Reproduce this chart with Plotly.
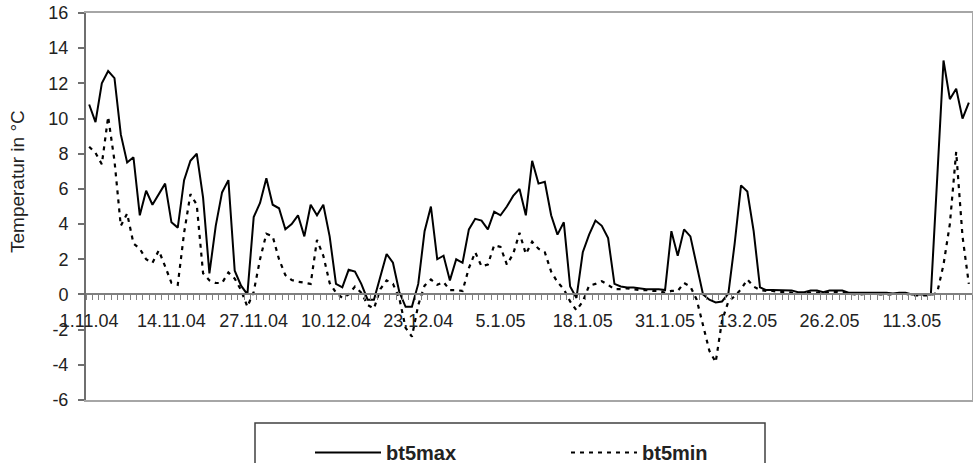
import pandas as pd
import plotly.graph_objects as go

start_date = "2004-11-01"
n_days = 140
dates = pd.date_range(start_date, periods=n_days, freq="D")

bt5max = [
    10.8, 9.8, 12.0, 12.7, 12.3, 9.1, 7.5, 7.8, 4.5, 5.9,
    5.1, 5.7, 6.3, 4.1, 3.8, 6.5, 7.6, 8.0, 5.5, 1.2,
    3.9, 5.8, 6.5, 1.35, 0.5, 0.0, 4.4, 5.2, 6.6, 5.1,
    4.9, 3.7, 4.0, 4.5, 3.3, 5.1, 4.5, 5.1, 3.3, 0.6,
    0.4, 1.4, 1.3, 0.6, -0.3, -0.3, 1.0, 2.3, 1.8, 0.15,
    -0.7, -0.7, 0.6, 3.6, 5.0, 2.0, 2.2, 0.8, 2.0, 1.8,
    3.7, 4.3, 4.2, 3.7, 4.7, 4.5, 5.0, 5.6, 6.0, 4.5,
    7.6, 6.3, 6.4, 4.5, 3.4, 4.1, 0.45, -0.2, 2.4, 3.4,
    4.2, 3.9, 3.2, 0.6, 0.45, 0.4, 0.4, 0.35, 0.3, 0.3,
    0.3, 0.25, 3.6, 2.2, 3.7, 3.3, 1.6, 0.0, -0.3, -0.45,
    -0.4, 0.05, 2.9, 6.2, 5.85, 3.6, 0.4, 0.25, 0.25, 0.25,
    0.25, 0.23, 0.13, 0.13, 0.22, 0.22, 0.13, 0.23, 0.23, 0.22,
    0.1, 0.1, 0.1, 0.1, 0.1, 0.1, 0.1, 0.05, 0.1, 0.1,
    0.0, 0.0, 0.0, 0.0, 6.6, 13.3, 11.1, 11.7, 10.0, 10.9,
]

bt5min = [
    8.4, 8.05, 7.4, 10.1, 7.6, 3.9, 4.6, 2.9, 2.6, 2.0,
    1.8, 2.5, 1.6, 0.66, 0.55, 3.5, 5.7, 5.1, 1.2, 0.8,
    0.65, 0.65, 1.25, 0.9, 0.25, -0.7, 0.15, 2.0, 3.45, 3.3,
    2.0, 1.1, 0.82, 0.72, 0.67, 0.6, 3.1, 2.2, 0.65, 0.1,
    -0.2, 0.0, 0.45, 0.1, -0.6, -0.8, 0.3, 0.8, 0.6, -0.2,
    -1.9, -2.4, -0.6, 0.5, 0.85, 0.55, 0.7, 0.25, 0.25, 0.2,
    1.5, 2.4, 1.6, 1.7, 2.8, 2.7, 1.7, 2.3, 3.5, 2.3,
    3.0, 2.6, 2.4, 1.3, 0.7, 0.3, -0.4, -0.9, -0.4, 0.5,
    0.6, 0.75, 0.55, 0.3, 0.3, 0.35, 0.3, 0.25, 0.25, 0.2,
    0.2, 0.1, 0.2, 0.2, 0.65, 0.45, -0.3, -1.7, -3.2, -3.85,
    -1.5, -0.4, -0.1, 0.3, 0.85, 0.45, 0.25, 0.2, 0.2, 0.15,
    0.15, 0.1, 0.05, 0.05, 0.1, 0.1, 0.05, 0.15, 0.15, 0.1,
    0.05, 0.0, 0.0, 0.05, 0.05, 0.0, 0.0, 0.0, 0.05, 0.05,
    -0.05, -0.05, -0.05, -0.05, 0.1, 1.7, 4.0, 8.1, 3.3, 0.6,
]

tick_step = 13
tick_dates = dates[::tick_step]
tick_labels = ["1.11.04", "14.11.04", "27.11.04", "10.12.04", "23.12.04", "5.1.05",
               "18.1.05", "31.1.05", "13.2.05", "26.2.05", "11.3.05"]

y_min, y_max = -6, 16
y_ticks = list(range(y_min, y_max + 1, 2))
y_tick_labels = [str(v) for v in y_ticks]

FONT = "Liberation Sans, Arial, sans-serif"
TXT = "#222222"
FRAME = "#a6a6a6"

half_day = pd.Timedelta(hours=12)
x_lo = dates[0] - half_day
x_hi = dates[-1] + half_day

fig = go.Figure()
fig.add_trace(go.Scatter(x=dates, y=bt5max, mode="lines", name="bt5max",
                         line=dict(color="#000000", width=2)))
fig.add_trace(go.Scatter(x=dates, y=bt5min, mode="lines", name="bt5min",
                         line=dict(color="#000000", width=2.2, dash="4px,5px")))
# invisible companion trace so the frame axes (x2/y2) are drawn
fig.add_trace(go.Scatter(x=dates, y=bt5max, mode="lines", xaxis="x2", yaxis="y2",
                         line=dict(color="rgba(0,0,0,0)", width=0), showlegend=False,
                         hoverinfo="skip"))

W, H = 973, 463
L, R, T, B = 86, 1, 13, 463 - 400
PW, PH = W - L - R, H - T - B

def px_x(sx):
    return (sx - L) / PW

def px_y(sy):
    return (H - B - sy) / PH

fig.update_layout(
    width=W, height=H,
    margin=dict(l=L, r=R, t=T, b=B, autoexpand=False),
    paper_bgcolor="white", plot_bgcolor="rgba(0,0,0,0)",
    font=dict(family=FONT, size=18, color=TXT),
    showlegend=True,
    legend=dict(orientation="h", x=px_x(310), y=px_y(433), xanchor="left", yanchor="top",
                font=dict(family=FONT, size=20, color=TXT, weight="bold"),
                itemwidth=66, entrywidth=175, bgcolor="rgba(0,0,0,0)"),
    xaxis=dict(
        type="date", range=[x_lo, x_hi], automargin=False,
        anchor="free", position=(0 - y_min) / (y_max - y_min),
        showline=True, linecolor="#7f7f7f", linewidth=1.5,
        showgrid=False, zeroline=False,
        tickmode="array", tickvals=list(tick_dates), ticktext=tick_labels,
        ticks="", ticklabelstandoff=10, ticklabeloverflow="allow",
        tickfont=dict(family=FONT, size=18, color=TXT),
        minor=dict(tick0=x_lo, dtick=86400000, ticks="outside", ticklen=5,
                   tickcolor="#7f7f7f", tickwidth=1, showgrid=False),
    ),
    xaxis2=dict(
        type="date", range=[x_lo, x_hi], overlaying="x", anchor="y2", side="top",
        showline=True, mirror=True, linecolor=FRAME, linewidth=2,
        showgrid=False, zeroline=False, showticklabels=False, ticks="",
        automargin=False,
    ),
    yaxis2=dict(
        range=[y_min, y_max], overlaying="y", anchor="x2", side="right",
        showline=True, linecolor=FRAME, linewidth=2,
        showgrid=False, zeroline=False, showticklabels=False, ticks="",
        automargin=False,
    ),
    yaxis=dict(
        range=[y_min, y_max], automargin=False,
        tickmode="array", tickvals=y_ticks, ticktext=y_tick_labels,
        showline=True, linecolor="#6f6f6f", linewidth=2,
        showgrid=False, zeroline=False,
        ticks="outside", ticklen=6, tickcolor="#6f6f6f", tickwidth=1.5,
        ticklabelstandoff=6, ticklabeloverflow="allow",
        tickfont=dict(family=FONT, size=18, color=TXT),
    ),
    shapes=[
        dict(type="rect", xref="paper", yref="paper",
             x0=px_x(255), x1=px_x(765), y0=px_y(423), y1=px_y(490),
             line=dict(color="#404040", width=1.5), layer="below"),
    ],
    annotations=[
        dict(text="Temperatur in °C", xref="paper", yref="paper",
             x=px_x(18), y=px_y(182), textangle=-90,
             showarrow=False, xanchor="center", yanchor="middle",
             font=dict(family=FONT, size=19, color=TXT)),
    ],
)

fig.write_html("out.html",
               config={"displayModeBar": False},
               post_script="document.body.style.margin='0px';document.body.style.overflow='hidden';")
